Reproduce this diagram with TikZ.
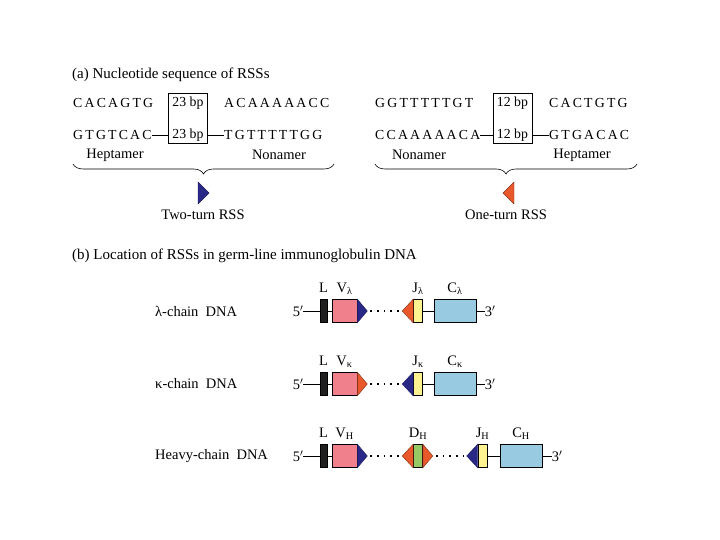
\documentclass[tikz,border=0pt]{standalone}
\usepackage{fontspec}
\setmainfont{Liberation Serif}
\newfontfamily\seqfont[LetterSpace=16]{Liberation Serif}
\usepackage{xcolor}
\usepackage{tikz}
\usetikzlibrary{positioning, decorations.pathreplacing}
\definecolor{vpink}{RGB}{240,128,140}
\definecolor{rssblue}{RGB}{42,40,135}
\definecolor{rssorange}{RGB}{232,88,42}
\definecolor{jyellow}{RGB}{255,242,145}
\definecolor{cblue}{RGB}{152,202,226}
\definecolor{dgreen}{RGB}{150,200,100}
\tikzset{
  title/.style={anchor=west, inner sep=0pt, font=\fontsize{15}{18}\selectfont},
  tag/.style={inner sep=0pt, font=\fontsize{14.5}{17}\selectfont},
  seq/.style={anchor=west, inner sep=0pt, font=\fontsize{13.8}{16}\seqfont},
  bp/.style={inner sep=0pt, font=\fontsize{13.8}{16}\selectfont},
  bpbox/.style={draw, line width=0.8pt, minimum width=39pt, minimum height=50pt},
  brace/.style={decorate, decoration={brace, mirror, amplitude=10pt}, line width=0.6pt},
  gene/.style={inner sep=0pt, text depth=0pt, font=\fontsize{14.5}{17}\selectfont},
  seg/.style={draw, line width=0.6pt, minimum height=23pt, inner sep=0pt},
  lbar/.style={seg, fill=black!88, minimum width=7pt},
  vseg/.style={seg, fill=vpink, minimum width=25pt},
  jseg/.style={seg, fill=jyellow, minimum width=9pt},
  dseg/.style={seg, fill=dgreen, minimum width=9pt},
  cseg/.style={seg, fill=cblue, minimum width=42pt},
  rssb/.style={fill=rssblue, draw=rssblue!70!black, line width=0.4pt},
  rsso/.style={fill=rssorange, draw=rssorange!55!black, line width=0.4pt},
  dna/.style={line width=0.7pt},
  gap/.style={line width=1.7pt, dash pattern=on 1.7pt off 5pt, shorten <=3pt, shorten >=2pt}
}

\begin{document}
\begin{tikzpicture}[x=1pt,y=-1pt]
    \useasboundingbox (0,0) rectangle (720,540);

    % (a) sequences
    \node[title] (ttlA) at (72,75) {(a) Nucleotide sequence of RSSs};

    \node[seq] (hepA1) at (73,103) {CACAGTG};
    \node[bpbox] (boxA) at (188,118.5) {};
    \node[bp] (bpA1) at (188,103) {23 bp};
    \node[seq] (nonA1) at (224,103) {ACAAAAACC};
    \node[seq] (hepA2) at (73,135) {GTGTCAC};
    \node[bp] (bpA2) at (188,135) {23 bp};
    \node[seq] (nonA2) at (224,135) {TGTTTTTGG};
    \draw[line width=0.7pt] (hepA2.east) -- (boxA.west |- hepA2.east);
    \draw[line width=0.7pt] (boxA.east |- nonA2.west) -- (nonA2.west);
    \node[tag] (hepLabA) at (115,155) {Heptamer};
    \node[tag] (nonLabA) at (279,155) {Nonamer};
    \coordinate (brA1) at (73,164);
    \coordinate (brA2) at (334,164);
    \draw[brace] (brA1) -- (brA2);
    \filldraw[rssb] (198,182) -- (209,193) -- (198,204) -- cycle;
    \node[tag] (twoturn) at (203,215) {Two-turn RSS};

    \node[seq] (nonB1) at (375,103) {GGTTTTTGT};
    \node[bpbox] (boxB) at (512.5,118.5) {};
    \node[bp] (bpB1) at (512.5,103) {12 bp};
    \node[seq] (hepB1) at (549,103) {CACTGTG};
    \node[seq] (nonB2) at (375,135) {CCAAAAACA};
    \node[bp] (bpB2) at (512.5,135) {12 bp};
    \node[seq] (hepB2) at (549,135) {GTGACAC};
    \draw[line width=0.7pt] (nonB2.east) -- (boxB.west |- nonB2.east);
    \draw[line width=0.7pt] (boxB.east |- hepB2.west) -- (hepB2.west);
    \node[tag] (nonLabB) at (419,155) {Nonamer};
    \node[tag] (hepLabB) at (582,155) {Heptamer};
    \coordinate (brB1) at (375,164);
    \coordinate (brB2) at (637,164);
    \draw[brace] (brB1) -- (brB2);
    \filldraw[rsso] (514,182) -- (503,193) -- (514,204) -- cycle;
    \node[tag] (oneturn) at (506,215) {One-turn RSS};

    % (b) germ-line DNA
    \node[title] (ttlB) at (72,256) {(b) Location of RSSs in germ-line immunoglobulin DNA};

    \node[tag, anchor=west] (lamLab) at (155,311) {λ-chain\ \ DNA};
    \node[tag] (lam5) at (298,311) {5$'$};
    \node[lbar] (lamL) at (323.5,311) {};
    \node[vseg] (lamV) at (344.5,311) {};
    \node[jseg] (lamJ) at (418,311) {};
    \node[cseg] (lamC) at (455,311) {};
    \node[tag] (lam3) at (490,311) {3$'$};
    \coordinate (lamVr) at ([xshift=10pt]lamV.east);
    \coordinate (lamJl) at ([xshift=-11pt]lamJ.west);
    \draw[dna] (lam5) -- (lamL);
    \draw[dna] (lamL) -- (lamV);
    \draw[dna] (lamJ) -- (lamC);
    \draw[dna] (lamC) -- (lam3);
    \filldraw[rssb] (lamV.north east) -- (lamVr) -- (lamV.south east) -- cycle;
    \filldraw[rsso] (lamJ.north west) -- (lamJl) -- (lamJ.south west) -- cycle;
    \draw[gap] (lamVr) -- (lamJl);
    \node[gene, above=7pt of lamL] {L};
    \node[gene, above=7pt of lamV] {V\textsubscript{λ}};
    \node[gene, above=7pt of lamJ] {J\textsubscript{λ}};
    \node[gene, above=7pt of lamC] {C\textsubscript{λ}};

    \node[tag, anchor=west] (kapLab) at (155,384) {κ-chain\ \ DNA};
    \node[tag] (kap5) at (298,384) {5$'$};
    \node[lbar] (kapL) at (323.5,384) {};
    \node[vseg] (kapV) at (344.5,384) {};
    \node[jseg] (kapJ) at (418,384) {};
    \node[cseg] (kapC) at (455,384) {};
    \node[tag] (kap3) at (490,384) {3$'$};
    \coordinate (kapVr) at ([xshift=10pt]kapV.east);
    \coordinate (kapJl) at ([xshift=-11pt]kapJ.west);
    \draw[dna] (kap5) -- (kapL);
    \draw[dna] (kapL) -- (kapV);
    \draw[dna] (kapJ) -- (kapC);
    \draw[dna] (kapC) -- (kap3);
    \filldraw[rsso] (kapV.north east) -- (kapVr) -- (kapV.south east) -- cycle;
    \filldraw[rssb] (kapJ.north west) -- (kapJl) -- (kapJ.south west) -- cycle;
    \draw[gap] (kapVr) -- (kapJl);
    \node[gene, above=7pt of kapL] {L};
    \node[gene, above=7pt of kapV] {V\textsubscript{κ}};
    \node[gene, above=7pt of kapJ] {J\textsubscript{κ}};
    \node[gene, above=7pt of kapC] {C\textsubscript{κ}};

    \node[tag, anchor=west] (hvyLab) at (155,456) {Heavy-chain\ \ DNA};
    \node[tag] (hvy5) at (298,456) {5$'$};
    \node[lbar] (hvyL) at (323.5,456) {};
    \node[vseg] (hvyV) at (344.5,456) {};
    \node[dseg] (hvyD) at (418,456) {};
    \node[jseg] (hvyJ) at (482.5,456) {};
    \node[cseg] (hvyC) at (521,456) {};
    \node[tag] (hvy3) at (557,456) {3$'$};
    \coordinate (hvyVr) at ([xshift=10pt]hvyV.east);
    \coordinate (hvyDl) at ([xshift=-11pt]hvyD.west);
    \coordinate (hvyDr) at ([xshift=10pt]hvyD.east);
    \coordinate (hvyJl) at ([xshift=-11pt]hvyJ.west);
    \draw[dna] (hvy5) -- (hvyL);
    \draw[dna] (hvyL) -- (hvyV);
    \draw[dna] (hvyJ) -- (hvyC);
    \draw[dna] (hvyC) -- (hvy3);
    \filldraw[rssb] (hvyV.north east) -- (hvyVr) -- (hvyV.south east) -- cycle;
    \filldraw[rsso] (hvyD.north west) -- (hvyDl) -- (hvyD.south west) -- cycle;
    \filldraw[rsso] (hvyD.north east) -- (hvyDr) -- (hvyD.south east) -- cycle;
    \filldraw[rssb] (hvyJ.north west) -- (hvyJl) -- (hvyJ.south west) -- cycle;
    \draw[gap] (hvyVr) -- (hvyDl);
    \draw[gap] (hvyDr) -- (hvyJl);
    \node[gene, above=7pt of hvyL] {L};
    \node[gene, above=7pt of hvyV] {V\textsubscript{H}};
    \node[gene, above=7pt of hvyD] {D\textsubscript{H}};
    \node[gene, above=7pt of hvyJ] {J\textsubscript{H}};
    \node[gene, above=7pt of hvyC] {C\textsubscript{H}};
\end{tikzpicture}
\end{document}
